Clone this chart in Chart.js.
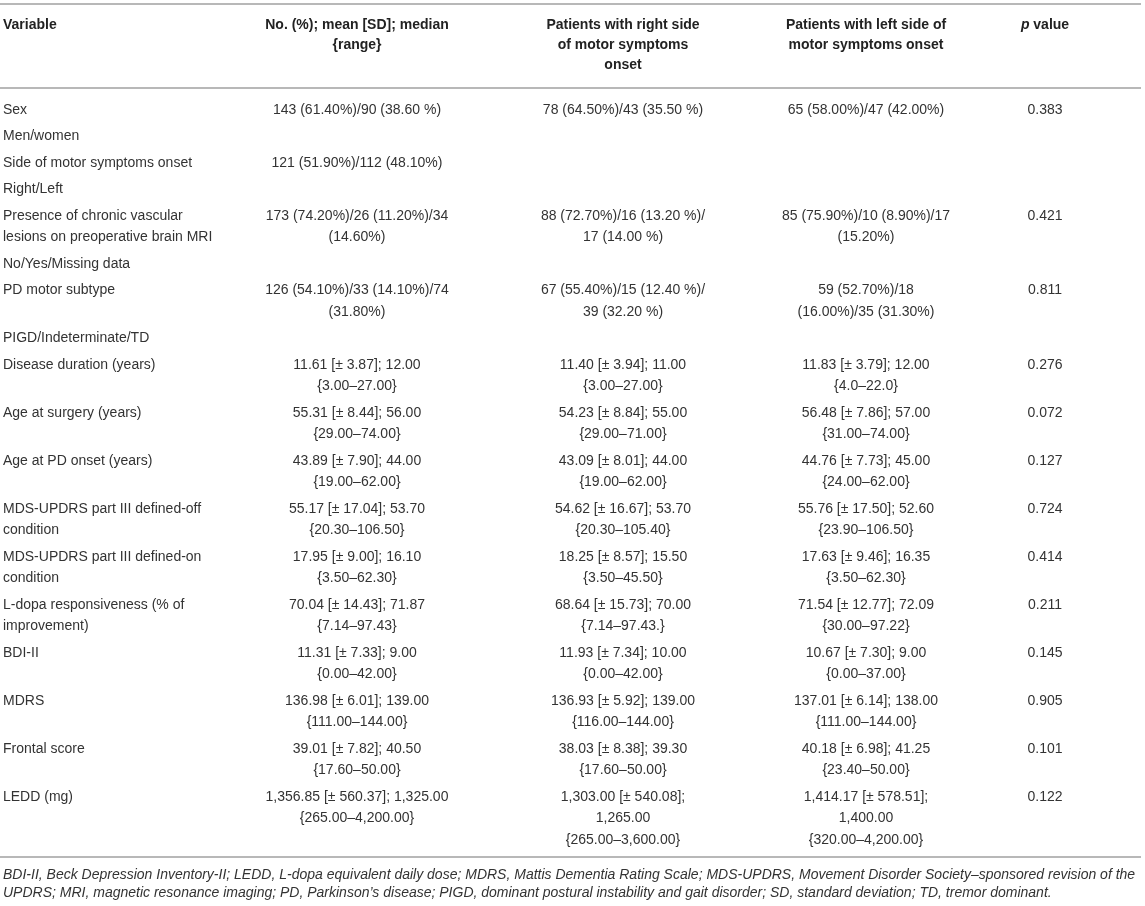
<!DOCTYPE html>
<html>
<head>
<meta charset="utf-8">
<script src="https://cdn.jsdelivr.net/npm/chart.js@4"></script>
<style>
  html, body { margin: 0; padding: 0; background: #ffffff; }
  #wrap { position: relative; width: 1145px; height: 906px; }
</style>
</head>
<body>
<div id="wrap"><canvas id="c"></canvas></div>
<script>
// ---------- DATA ----------
const headers = [
  ["Variable"],
  ["No. (%); mean [SD]; median", "{range}"],
  ["Patients with right side", "of motor symptoms", "onset"],
  ["Patients with left side of", "motor symptoms onset"],
  ["p value"]
];

const variables = [
  ["Sex"],
  ["Men/women"],
  ["Side of motor symptoms onset"],
  ["Right/Left"],
  ["Presence of chronic vascular", "lesions on preoperative brain MRI"],
  ["No/Yes/Missing data"],
  ["PD motor subtype"],
  ["PIGD/Indeterminate/TD"],
  ["Disease duration (years)"],
  ["Age at surgery (years)"],
  ["Age at PD onset (years)"],
  ["MDS-UPDRS part III defined-off", "condition"],
  ["MDS-UPDRS part III defined-on", "condition"],
  ["L-dopa responsiveness (% of", "improvement)"],
  ["BDI-II"],
  ["MDRS"],
  ["Frontal score"],
  ["LEDD (mg)"]
];

const allPatients = [
  ["143 (61.40%)/90 (38.60 %)"],
  [],
  ["121 (51.90%)/112 (48.10%)"],
  [],
  ["173 (74.20%)/26 (11.20%)/34", "(14.60%)"],
  [],
  ["126 (54.10%)/33 (14.10%)/74", "(31.80%)"],
  [],
  ["11.61 [± 3.87]; 12.00", "{3.00–27.00}"],
  ["55.31 [± 8.44]; 56.00", "{29.00–74.00}"],
  ["43.89 [± 7.90]; 44.00", "{19.00–62.00}"],
  ["55.17 [± 17.04]; 53.70", "{20.30–106.50}"],
  ["17.95 [± 9.00]; 16.10", "{3.50–62.30}"],
  ["70.04 [± 14.43]; 71.87", "{7.14–97.43}"],
  ["11.31 [± 7.33]; 9.00", "{0.00–42.00}"],
  ["136.98 [± 6.01]; 139.00", "{111.00–144.00}"],
  ["39.01 [± 7.82]; 40.50", "{17.60–50.00}"],
  ["1,356.85 [± 560.37]; 1,325.00", "{265.00–4,200.00}"]
];

const rightOnset = [
  ["78 (64.50%)/43 (35.50 %)"],
  [],
  [],
  [],
  ["88 (72.70%)/16 (13.20 %)/", "17 (14.00 %)"],
  [],
  ["67 (55.40%)/15 (12.40 %)/", "39 (32.20 %)"],
  [],
  ["11.40 [± 3.94]; 11.00", "{3.00–27.00}"],
  ["54.23 [± 8.84]; 55.00", "{29.00–71.00}"],
  ["43.09 [± 8.01]; 44.00", "{19.00–62.00}"],
  ["54.62 [± 16.67]; 53.70", "{20.30–105.40}"],
  ["18.25 [± 8.57]; 15.50", "{3.50–45.50}"],
  ["68.64 [± 15.73]; 70.00", "{7.14–97.43.}"],
  ["11.93 [± 7.34]; 10.00", "{0.00–42.00}"],
  ["136.93 [± 5.92]; 139.00", "{116.00–144.00}"],
  ["38.03 [± 8.38]; 39.30", "{17.60–50.00}"],
  ["1,303.00 [± 540.08];", "1,265.00", "{265.00–3,600.00}"]
];

const leftOnset = [
  ["65 (58.00%)/47 (42.00%)"],
  [],
  [],
  [],
  ["85 (75.90%)/10 (8.90%)/17", "(15.20%)"],
  [],
  ["59 (52.70%)/18", "(16.00%)/35 (31.30%)"],
  [],
  ["11.83 [± 3.79]; 12.00", "{4.0–22.0}"],
  ["56.48 [± 7.86]; 57.00", "{31.00–74.00}"],
  ["44.76 [± 7.73]; 45.00", "{24.00–62.00}"],
  ["55.76 [± 17.50]; 52.60", "{23.90–106.50}"],
  ["17.63 [± 9.46]; 16.35", "{3.50–62.30}"],
  ["71.54 [± 12.77]; 72.09", "{30.00–97.22}"],
  ["10.67 [± 7.30]; 9.00", "{0.00–37.00}"],
  ["137.01 [± 6.14]; 138.00", "{111.00–144.00}"],
  ["40.18 [± 6.98]; 41.25", "{23.40–50.00}"],
  ["1,414.17 [± 578.51];", "1,400.00", "{320.00–4,200.00}"]
];

const pValues = ["0.383", "", "", "", "0.421", "", "0.811", "", "0.276", "0.072", "0.127", "0.724", "0.414", "0.211", "0.145", "0.905", "0.101", "0.122"];

const footnotes = [
  "BDI-II, Beck Depression Inventory-II; LEDD, L-dopa equivalent daily dose; MDRS, Mattis Dementia Rating Scale; MDS-UPDRS, Movement Disorder Society–sponsored revision of the",
  "UPDRS; MRI, magnetic resonance imaging; PD, Parkinson’s disease; PIGD, dominant postural instability and gait disorder; SD, standard deviation; TD, tremor dominant."
];

// ---------- LAYOUT / STYLE ----------
const W = 1145, H = 906;
const FONT = '"Liberation Sans", Arial, Helvetica, sans-serif';
const TEXT = '#333333';
const RULE = '#b8b8b8';
const colX = [3, 357, 623, 866, 1045];        // left edge for col 0, centres for others
const headLine = 20, cellLine = 21.5, rowGap = 26.5;

const tablePlugin = {
  id: 'tablePlugin',
  afterDraw(chart) {
    const ctx = chart.ctx;
    const xs = chart.scales.x, ys = chart.scales.y;
    const px = v => xs.getPixelForValue(v);
    const py = v => ys.getPixelForValue(v);
    ctx.save();
    ctx.textBaseline = 'middle';

    // rules
    ctx.strokeStyle = RULE;
    ctx.lineWidth = 1.8;
    [4, 88, 857].forEach(y => {
      ctx.beginPath();
      ctx.moveTo(px(0), py(y));
      ctx.lineTo(px(1141), py(y));
      ctx.stroke();
    });

    // header
    ctx.fillStyle = '#222222';
    headers.forEach((lines, ci) => {
      lines.forEach((t, li) => {
        const y = py(25 + li * headLine);
        if (ci === 0) {
          ctx.font = 'bold 14px ' + FONT;
          ctx.textAlign = 'left';
          ctx.fillText(t, px(colX[0]), y);
        } else if (ci === 4) {
          ctx.textAlign = 'left';
          ctx.font = 'italic bold 14px ' + FONT;
          const pw = ctx.measureText('p').width;
          ctx.font = 'bold 14px ' + FONT;
          const rest = t.slice(1);
          const rw = ctx.measureText(rest).width;
          const x0 = px(colX[4]) - (pw + rw) / 2;
          ctx.font = 'italic bold 14px ' + FONT;
          ctx.fillText('p', x0, y);
          ctx.font = 'bold 14px ' + FONT;
          ctx.fillText(rest, x0 + pw, y);
        } else {
          ctx.font = 'bold 14px ' + FONT;
          ctx.textAlign = 'center';
          ctx.fillText(t, px(colX[ci]), y);
        }
      });
    });

    // body
    ctx.fillStyle = TEXT;
    ctx.font = '14px ' + FONT;
    let y0 = 110;
    variables.forEach((v, ri) => {
      const cols = [v, allPatients[ri], rightOnset[ri], leftOnset[ri], pValues[ri] ? [pValues[ri]] : []];
      let n = 1;
      cols.forEach((lines, ci) => {
        n = Math.max(n, lines.length);
        ctx.textAlign = ci === 0 ? 'left' : 'center';
        lines.forEach((t, li) => {
          ctx.fillText(t, px(colX[ci]), py(y0 + li * cellLine));
        });
      });
      y0 += (n - 1) * cellLine + rowGap;
    });

    // footnotes
    ctx.font = 'italic 14px ' + FONT;
    ctx.textAlign = 'left';
    ctx.fillStyle = TEXT;
    footnotes.forEach((t, i) => {
      ctx.fillText(t, px(3), py(875 + i * 18));
    });
    ctx.restore();
  }
};

new Chart(document.getElementById('c'), {
  type: 'scatter',
  data: { datasets: [{ data: [], pointRadius: 0 }] },
  options: {
    responsive: true,
    maintainAspectRatio: false,
    animation: false,
    layout: { padding: 0 },
    plugins: { legend: { display: false }, tooltip: { enabled: false } },
    scales: {
      x: { type: 'linear', min: 0, max: W, display: false },
      y: { type: 'linear', min: 0, max: H, reverse: true, display: false }
    }
  },
  plugins: [tablePlugin]
});
</script>
</body>
</html>
